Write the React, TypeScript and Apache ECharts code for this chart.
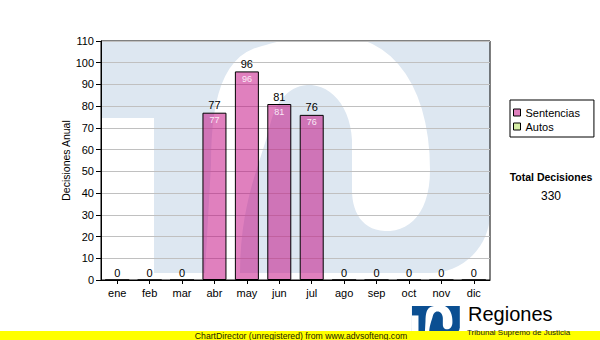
import React, { useEffect, useRef } from "react";
import * as echarts from "echarts";

// ---- data ----
const months = ["ene", "feb", "mar", "abr", "may", "jun", "jul", "ago", "sep", "oct", "nov", "dic"];
const sentencias = [0, 0, 0, 77, 96, 81, 76, 0, 0, 0, 0, 0];
const autos = [0, 0, 0, 0, 0, 0, 0, 0, 0, 0, 0, 0];
const yMin = 0;
const yMax = 110;
const yInterval = 10;
const seriesNames = ["Sentencias", "Autos"];
const yAxisTitle = "Decisiones Anual";
const totalTitle = "Total Decisiones";
const logoTitle = "Regiones";
const logoSubtitle = "Tribunal Supremo de Justicia";
const footerText = "ChartDirector (unregistered) from www.advsofteng.com";

// ---- styles ----
const FONT = "'Liberation Sans', Arial, sans-serif";
const PINK = "rgba(193, 1, 125, 0.5)";
const GREEN = "#d6eea6";
const WATER_BLUE = "#dde7f1";
const LOGO_BLUE = "#0b4f92";

// outline of the white "S" of the logo (decoration geometry, plot-pixel frame)
const S_START: [number, number] = [205, 273];
const S_SEGS: number[][] = [
  [211, 165],
  [211, 100, 222, 55, 262, 46],
  [280, 41, 300, 36, 320, 36],
  [340, 36],
  [395, 38, 430, 90, 430, 170],
  [430, 212, 410, 232, 385, 231],
  [362, 230, 352, 212, 352, 190],
  [352, 140],
  [350, 105, 330, 84, 307, 85],
  [290, 86, 276, 100, 270, 125],
  [262, 160, 240, 200, 240, 273],
];

function sampleOutline(): number[][] {
  const pts: number[][] = [S_START.slice()];
  let [cx, cy] = S_START;
  for (const s of S_SEGS) {
    if (s.length === 2) {
      pts.push([s[0], s[1]]);
      cx = s[0];
      cy = s[1];
    } else {
      const [x1, y1, x2, y2, x, y] = s;
      const n = 14;
      for (let i = 1; i <= n; i++) {
        const t = i / n;
        const u = 1 - t;
        pts.push([
          u * u * u * cx + 3 * u * u * t * x1 + 3 * u * t * t * x2 + t * t * t * x,
          u * u * u * cy + 3 * u * u * t * y1 + 3 * u * t * t * y2 + t * t * t * y,
        ]);
      }
      cx = x;
      cy = y;
    }
  }
  return pts;
}

function logoGroup(tx: number, ty: number, s: number, blue: string, z: number) {
  const pts = sampleOutline();
  return {
    type: "group",
    x: tx - 101 * s,
    y: ty - 41 * s,
    scaleX: s,
    scaleY: s,
    z,
    silent: true,
    children: [
      { type: "rect", z, silent: true, shape: { x: 101, y: 41, width: 389, height: 232, r: [0, 0, 60, 0] }, style: { fill: blue } },
      { type: "rect", z, silent: true, shape: { x: 101, y: 118, width: 53, height: 155 }, style: { fill: "#ffffff" } },
      { type: "polygon", z, silent: true, shape: { points: pts }, style: { fill: "#ffffff" } },
    ],
  };
}

export default function App() {
  const ref = useRef<HTMLDivElement>(null);

  useEffect(() => {
    if (!ref.current) return;
    const chart = echarts.init(ref.current, undefined, { renderer: "svg" });
    const total = sentencias.reduce((a, b) => a + b, 0) + autos.reduce((a, b) => a + b, 0);

    chart.setOption({
      animation: false,
      backgroundColor: "#ffffff",
      textStyle: { fontFamily: FONT },
      grid: {
        left: 101,
        top: 41,
        right: 110,
        bottom: 60,
        show: true,
        borderColor: "#000",
        borderWidth: 1,
        backgroundColor: "transparent",
      },
      legend: {
        orient: "vertical",
        left: 510,
        top: 100,
        padding: [7, 14, 5, 3],
        itemGap: 3,
        itemWidth: 7,
        itemHeight: 7,
        icon: "rect",
        borderColor: "#000",
        borderWidth: 1,
        textStyle: { fontSize: 11, color: "#000", fontFamily: FONT },
        data: [
          { name: seriesNames[0], itemStyle: { color: PINK, borderColor: "#000", borderWidth: 1 } },
          { name: seriesNames[1], itemStyle: { color: GREEN, borderColor: "#000", borderWidth: 1 } },
        ],
      },
      xAxis: {
        type: "category",
        data: months,
        boundaryGap: true,
        axisLine: { show: true, lineStyle: { color: "#000", width: 1 } },
        axisTick: { show: true, alignWithLabel: true, length: 4, lineStyle: { color: "#000" } },
        axisLabel: { color: "#000", fontSize: 11, margin: 7, fontFamily: FONT },
        splitLine: { show: false },
      },
      yAxis: {
        type: "value",
        min: yMin,
        max: yMax,
        interval: yInterval,
        name: yAxisTitle,
        nameLocation: "middle",
        nameRotate: 90,
        nameGap: 30,
        nameMoveOverlap: false,
        nameTextStyle: { fontSize: 10.5, color: "#000", fontFamily: FONT },
        axisLine: { show: true, lineStyle: { color: "#000", width: 1 } },
        axisTick: { show: true, length: 5, lineStyle: { color: "#000" } },
        axisLabel: { color: "#000", fontSize: 11, margin: 7, fontFamily: FONT },
        splitLine: { show: true, lineStyle: { color: "#c0c0c0", width: 1 } },
      },
      series: [
        {
          name: seriesNames[0],
          type: "bar",
          stack: "total",
          data: sentencias,
          barWidth: 24,
          itemStyle: { color: PINK, borderColor: "#000", borderWidth: 1 },
          label: {
            show: true,
            position: "insideTop",
            distance: 3,
            fontSize: 9,
            color: "#fbe9f6",
            fontFamily: FONT,
            formatter: (p: any) => (p.value ? String(p.value) : ""),
          },
        },
        {
          name: seriesNames[1],
          type: "bar",
          stack: "total",
          data: autos,
          barWidth: 24,
          itemStyle: { color: GREEN, borderWidth: 0 },
          label: {
            show: true,
            position: "top",
            distance: 2,
            fontSize: 11,
            color: "#000",
            fontFamily: FONT,
            formatter: (p: any) => String(sentencias[p.dataIndex] + autos[p.dataIndex]),
          },
        },
      ],
      graphic: {
        elements: [
          logoGroup(101, 41, 1, WATER_BLUE, -1),
          {
            type: "text",
            x: 551,
            y: 177,
            style: {
              text: totalTitle,
              fontSize: 10.5,
              fontWeight: "bold",
              fontFamily: FONT,
              fill: "#000",
              align: "center",
              verticalAlign: "middle",
            },
          },
          {
            type: "text",
            x: 551,
            y: 196,
            style: {
              text: String(total),
              fontSize: 12,
              fontFamily: FONT,
              fill: "#000",
              align: "center",
              verticalAlign: "middle",
            },
          },
          logoGroup(412, 306, 48 / 389, LOGO_BLUE, 5),
          {
            type: "text",
            x: 468,
            y: 304,
            z: 5,
            style: {
              text: logoTitle,
              fontSize: 20,
              fontFamily: FONT,
              fill: "#000",
              align: "left",
              verticalAlign: "top",
            },
          },
          {
            type: "rect",
            z: 10,
            shape: { x: 0, y: 331, width: 600, height: 9 },
            style: { fill: "#ffff00" },
          },
          {
            type: "text",
            x: 467,
            y: 328,
            z: 12,
            style: {
              text: logoSubtitle,
              fontSize: 8,
              fontFamily: FONT,
              fill: "#1a1a1a",
              align: "left",
              verticalAlign: "top",
            },
          },
          {
            type: "text",
            z: 11,
            x: 301,
            y: 335.5,
            style: {
              text: footerText,
              fontSize: 8.7,
              fontFamily: FONT,
              fill: "#222200",
              align: "center",
              verticalAlign: "middle",
            },
          },
        ],
      },
    });

    return () => chart.dispose();
  }, []);

  return (
    <div
      ref={ref}
      style={{ position: "fixed", left: 0, top: 0, width: 600, height: 340, background: "#fff" }}
    />
  );
}
